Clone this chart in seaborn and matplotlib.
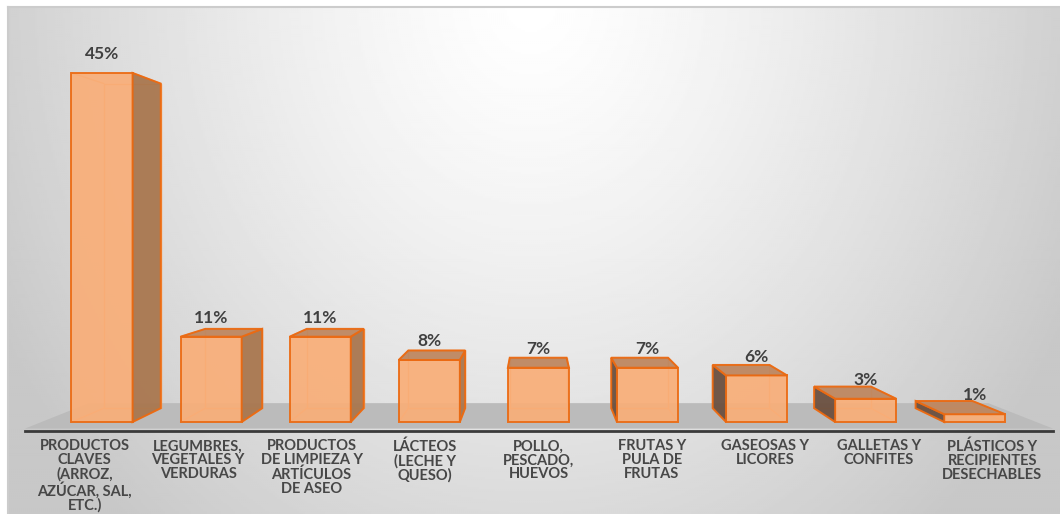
import numpy as np
import pandas as pd
import matplotlib
matplotlib.use("Agg")
import matplotlib.pyplot as plt
import seaborn as sns
from matplotlib.patches import Polygon

# Datos
categorias = [
    "PRODUCTOS\nCLAVES\n(ARROZ,\nAZÚCAR, SAL,\nETC.)",
    "LEGUMBRES,\nVEGETALES Y\nVERDURAS",
    "PRODUCTOS\nDE LIMPIEZA Y\nARTÍCULOS\nDE ASEO",
    "LÁCTEOS\n(LECHE Y\nQUESO)",
    "POLLO,\nPESCADO,\nHUEVOS",
    "FRUTAS Y\nPULA DE\nFRUTAS",
    "GASEOSAS Y\nLICORES",
    "GALLETAS Y\nCONFITES",
    "PLÁSTICOS Y\nRECIPIENTES\nDESECHABLES",
]
porcentajes = [45, 11, 11, 8, 7, 7, 6, 3, 1]
etiquetas = [f"{v}%" for v in porcentajes]

df = pd.DataFrame({"categoria": categorias, "porcentaje": porcentajes})

sns.set_theme(style="white")
plt.rcParams["font.family"] = ["Lato", "DejaVu Sans"]

W, H = 1060, 514
fig = plt.figure(figsize=(W / 100, H / 100), dpi=100)
fig.patch.set_facecolor("white")

# Fondo del área del gráfico con degradado radial
bg = fig.add_axes([8 / W, 0, 1 - 8 / W, (H - 7) / H])
py, px = np.mgrid[7:514:2, 8:1060:2].astype(float)
d = np.sqrt(((px - 530) / 600) ** 2 + ((py - 0) / 700) ** 2)
val = (255 - 55 * np.clip(d, 0, 1) ** 1.3) / 255
bg.imshow(val, cmap="gray", vmin=0, vmax=1, aspect="auto",
          extent=[0, 1, 0, 1], interpolation="bilinear")
bg.set_xlim(0, 1)
bg.set_ylim(0, 1)
bg.set_xticks([])
bg.set_yticks([])
for side in ["right", "bottom"]:
    bg.spines[side].set_visible(False)
for side in ["top", "left"]:
    bg.spines[side].set_color("#cccccc")
    bg.spines[side].set_linewidth(1.5)

# Ejes principales
ax = fig.add_axes([25 / W, (H - 431) / H, 1028 / W, 424 / H])
ax.set_facecolor("none")

frente = "#F9AE78"
borde = "#EB6A12"
sns.barplot(data=df, x="categoria", y="porcentaje", order=categorias,
            width=0.56, color=frente, saturation=1, ax=ax,
            edgecolor=borde, linewidth=1.4, zorder=3)
barras = list(ax.patches)
for p in barras:
    p.set_alpha(0.92)
    p.set_edgecolor(borde)

ax.set_xlim(-0.706, 8.717)
ax.set_ylim(-1.16, 53.5)

# Proyección en perspectiva hacia un punto de fuga
VX, VY, S = 3.97, 25.4, 0.93


def fondo(x, y, s=S):
    return VX + s * (x - VX), VY + s * (y - VY)


# Piso gris
fy = -0.85
xl, xr = ax.get_xlim()
bl = fondo(xl, fy, 0.875)
br = fondo(xr, fy, 0.875)
ax.add_patch(Polygon([(xl, fy), (xr, fy), br, bl], closed=True,
                     facecolor="#BBBBBB", edgecolor="none", zorder=1))

cara_der = "#A9774F"
cara_izq = "#6B5040"
cara_sup = "#BE8760"
linea_int = "#F7A05E"

for p in barras:
    x0 = p.get_x()
    x1 = x0 + p.get_width()
    y0, y1 = 0.0, p.get_height()
    b00 = fondo(x0, y0)
    b10 = fondo(x1, y0)
    b11 = fondo(x1, y1)
    b01 = fondo(x0, y1)

    # aristas ocultas vistas a través del frente translúcido
    ax.plot([b00[0], b10[0], b11[0], b01[0], b00[0]],
            [b00[1], b10[1], b11[1], b01[1], b00[1]],
            color=linea_int, lw=1.0, zorder=2)
    for (fx, fyy), b in [((x0, y0), b00), ((x1, y0), b10),
                         ((x1, y1), b11), ((x0, y1), b01)]:
        ax.plot([fx, b[0]], [fyy, b[1]], color=linea_int, lw=1.0, zorder=2)

    # caras laterales visibles
    if b10[0] > x1:
        ax.add_patch(Polygon([(x1, y0), (x1, y1), b11, b10], closed=True,
                             facecolor=cara_der, edgecolor=borde, lw=1.4,
                             alpha=0.95, zorder=4))
    if b00[0] < x0:
        ax.add_patch(Polygon([(x0, y0), (x0, y1), b01, b00], closed=True,
                             facecolor=cara_izq, edgecolor=borde, lw=1.4,
                             alpha=0.95, zorder=4))
    # cara superior visible
    if b01[1] > y1:
        ax.add_patch(Polygon([(x0, y1), (x1, y1), b11, b01], closed=True,
                             facecolor=cara_sup, edgecolor=borde, lw=1.4,
                             alpha=0.95, zorder=4))

# Etiquetas de porcentaje
for p, txt in zip(barras, etiquetas):
    ax.annotate(txt, (p.get_x() + p.get_width() / 2, p.get_height()),
                xytext=(0, 10), textcoords="offset points",
                ha="center", va="baseline", fontsize=12.5,
                fontweight="bold", color="#404040", zorder=6)

# Ejes: las categorías se rotulan sobre el borde frontal del piso,
# desplazadas hacia fuera desde el punto de fuga
ax.set_xlabel("")
ax.set_ylabel("")
ax.set_yticks([])
pos_etq = [VX + 1.04 * (i - VX) for i in range(len(categorias))]
ax.set_xticks(pos_etq)
ax.set_xticklabels(categorias, fontsize=10.5, fontweight="bold",
                   color="#474747", linespacing=1.0)
ax.tick_params(axis="x", length=0, pad=6)
for side in ["top", "right", "left"]:
    ax.spines[side].set_visible(False)
ax.spines["bottom"].set_color("#3a3a3a")
ax.spines["bottom"].set_linewidth(2.0)
ax.spines["bottom"].set_zorder(5)

fig.savefig("out.png", dpi=100, facecolor="white")
